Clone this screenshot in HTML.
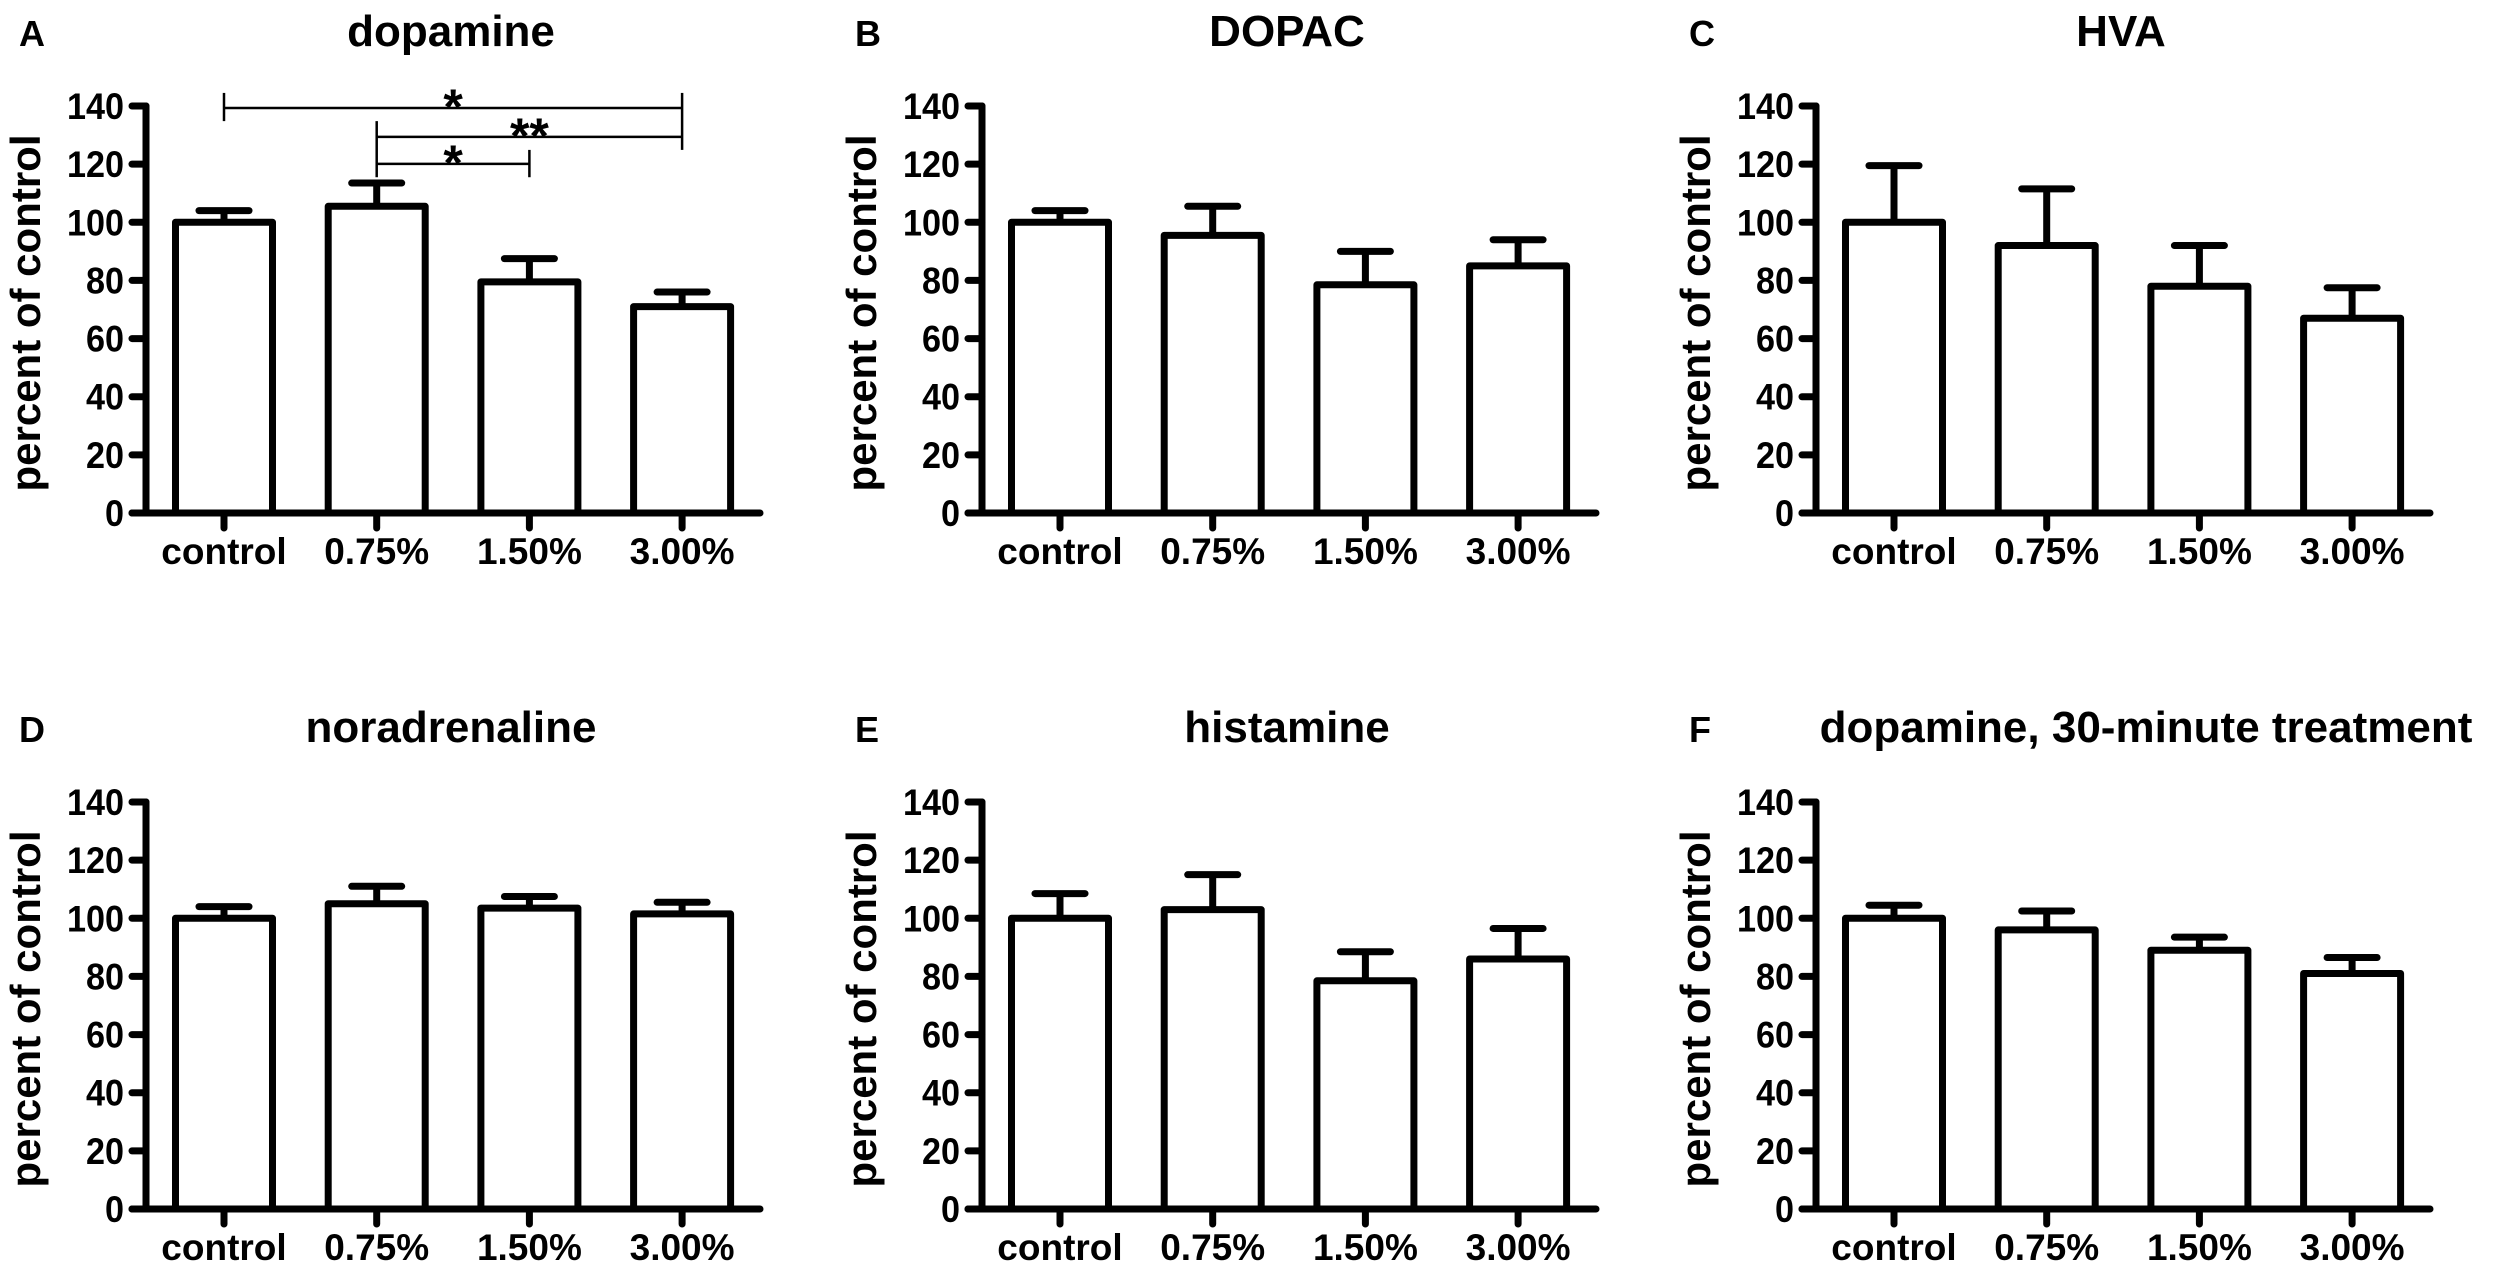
<!DOCTYPE html>
<html><head><meta charset="utf-8">
<style>
html,body{margin:0;padding:0;background:#fff;}
svg{display:block;}
text{font-family:"Liberation Sans",Arial,sans-serif;font-weight:bold;fill:#000;}
</style></head>
<body>
<svg id="fig" width="2500" height="1271" viewBox="0 0 2500 1271" xmlns="http://www.w3.org/2000/svg"></svg>
<script>
const categories = ["control", "0.75%", "1.50%", "3.00%"];
const yTicks = [0, 20, 40, 60, 80, 100, 120, 140];
const panelLetters = ["A", "B", "C", "D", "E", "F"];
const panelTitles = ["dopamine", "DOPAC", "HVA", "noradrenaline", "histamine", "dopamine, 30-minute treatment"];
const meanA = [100, 105.5, 79.5, 71];
const semA = [4, 8, 8, 5];
const meanB = [100, 95.5, 78.5, 85];
const semB = [4, 10, 11.5, 9];
const meanC = [100, 92, 78, 67];
const semC = [19.5, 19.5, 14, 10.5];
const meanD = [100, 105, 103.5, 101.5];
const semD = [4, 6, 4, 4];
const meanE = [100, 103, 78.5, 86];
const semE = [8.5, 12, 10, 10.5];
const meanF = [100, 96, 89, 81];
const semF = [4.5, 6.5, 4.5, 5.5];
const sigFrom = [0, 1, 1];
const sigTo = [3, 3, 2];
const sigLevel = [139.3, 129.4, 120.1];
const sigLabel = ["*", "**", "*"];

const means = [meanA, meanB, meanC, meanD, meanE, meanF];
const sems = [semA, semB, semC, semD, semE, semF];

const NS = "http://www.w3.org/2000/svg";
const svg = document.getElementById("fig");
function mk(tag, attrs, parent) {
  const e = document.createElementNS(NS, tag);
  for (const k in attrs) e.setAttribute(k, attrs[k]);
  (parent || svg).appendChild(e);
  return e;
}
const axisXs = [146, 982, 1816];
const rowY0 = [513, 1209];
const plotH = 407;
const catStep = 152.7, catOffset = 78, barW = 97;

for (let p = 0; p < 6; p++) {
  const ax = axisXs[p % 3], y0 = rowY0[Math.floor(p / 3)];
  const yS = v => y0 - v / 140 * plotH;
  const xS = i => ax + catOffset + i * catStep;
  const g = mk("g", {});
  
  

  const letter = mk("text", {x: ax - 127, y: y0 - 467, "font-size": 36}, g);
  letter.textContent = panelLetters[p];
  
  

  const tx = p === 5 ? ax + 330 : ax + 305;
  const title = mk("text", {x: tx, y: y0 - 467, "font-size": 44, "text-anchor": "middle"}, g);
  title.textContent = panelTitles[p];
  
  

  const yt = mk("text", {x: 0, y: 0, "font-size": 42, "text-anchor": "middle", transform: `translate(${ax - 106},${y0 - 200}) rotate(-90)`}, g);
  yt.textContent = "percent of control";
  
  

  for (let i = 0; i < 4; i++) {
    const m = means[p][i], s = sems[p][i], cx = xS(i);
    const eb = mk("line", {x1: cx, x2: cx, y1: yS(m), y2: yS(m + s), stroke: "#000", "stroke-width": 7}, g);
    
    
    const cap = mk("line", {x1: cx - 25, x2: cx + 25, y1: yS(m + s), y2: yS(m + s), stroke: "#000", "stroke-width": 7, "stroke-linecap": "round"}, g);
    
    
    const r = mk("rect", {x: cx - barW / 2, y: yS(m), width: barW, height: yS(0) - yS(m), fill: "#fff", stroke: "#000", "stroke-width": 7, "stroke-linejoin": "round"}, g);
    
    
    const tk = mk("line", {x1: cx, x2: cx, y1: y0, y2: y0 + 15, stroke: "#000", "stroke-width": 7, "stroke-linecap": "round"}, g);
    
    
    const cl = mk("text", {x: cx, y: y0 + 51, "font-size": 37, "text-anchor": "middle"}, g);
    cl.textContent = categories[i];
    
    
  }
  const yl = mk("line", {x1: ax, x2: ax, y1: yS(140), y2: y0, stroke: "#000", "stroke-width": 7, "stroke-linecap": "round"}, g);
  
  
  const xl = mk("line", {x1: ax - 14, x2: ax + 614, y1: y0, y2: y0, stroke: "#000", "stroke-width": 7, "stroke-linecap": "round"}, g);
  
  
  for (const t of yTicks) {
    const l = mk("line", {x1: ax - 14, x2: ax, y1: yS(t), y2: yS(t), stroke: "#000", "stroke-width": 7, "stroke-linecap": "round"}, g);
    
    
    const s = String(t);
    const lab = mk("text", {x: ax - 22, y: yS(t) + 13, "font-size": 37, "text-anchor": "end", textLength: s.length * 19, lengthAdjust: "spacingAndGlyphs"}, g);
    lab.textContent = s;
    
    
  }
  if (p === 0) {
    for (let k = 0; k < sigFrom.length; k++) {
      const xa = xS(sigFrom[k]), xb = xS(sigTo[k]), yv = yS(sigLevel[k]);
      const h = mk("line", {x1: xa, x2: xb, y1: yv, y2: yv, stroke: "#000", "stroke-width": 2.5}, g);
      
      
      const st = mk("text", {x: (xa + xb) / 2, y: yv + 16, "font-size": 50, "text-anchor": "middle"}, g);
      st.textContent = sigLabel[k];
      
      
    }
    const vt = [[0, 144.5, 134.8], [1, 134.8, 115.5], [3, 144.5, 124.9], [2, 124.9, 115.5]];
    for (const v of vt) {
      const l = mk("line", {x1: xS(v[0]), x2: xS(v[0]), y1: yS(v[1]), y2: yS(v[2]), stroke: "#000", "stroke-width": 2.5}, g);
      
      
    }
  }
}
</script>
</body></html>
